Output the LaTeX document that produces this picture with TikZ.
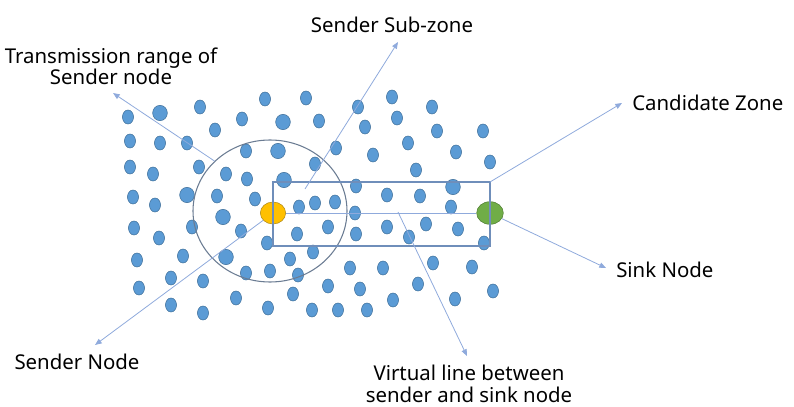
\documentclass[tikz,border=0pt]{standalone}
\usepackage{fontspec}
\setmainfont{Noto Sans}
\usepackage{tikz}
\usetikzlibrary{arrows.meta,shapes.geometric}
\definecolor{dotblue}{HTML}{5B9BD5}
\definecolor{dotedge}{HTML}{41719C}
\definecolor{sendyellow}{HTML}{FFC000}
\definecolor{sendedge}{HTML}{B08A1A}
\definecolor{sinkgreen}{HTML}{70AD47}
\definecolor{sinkedge}{HTML}{507E32}
\definecolor{callblue}{HTML}{8FAADC}
\definecolor{rangegray}{HTML}{6B7C93}
\definecolor{zoneblue}{HTML}{6F8EBA}
\tikzstyle{arrow} = [line width=0.6pt,color=callblue,-{Triangle[length=5pt,width=4pt]}]
\tikzstyle{dot} = [ellipse,draw=dotedge,fill=dotblue,line width=0.4pt,inner sep=0pt,minimum width=8.3pt,minimum height=10.5pt]
\tikzstyle{bigdot} = [dot,minimum width=11pt,minimum height=11.5pt]
\tikzstyle{lbl} = [font=\fontsize{15.3}{16}\selectfont,align=center,inner sep=0pt]

\begin{document}
\begin{tikzpicture}[x=0.75pt,y=-0.75pt]
    \useasboundingbox (0,0) rectangle (794,407);
    % field of nodes
    \foreach \x/\y [count=\i] in {128/117,200/107,265/99,306/98,358/107,392/97,432/107,
        242/119,215/130,319/121,365/127,397/118,437/131,483/131,
        130/141,160/143,187/143,246/151,336/148,373/155,408/143,456/152,490/162,
        130/167,153/174,199/167,226/174,247/179,315/164,416/170,
        133/197,155/205,217/196,255/199,299/207,315/203,335/202,356/186,387/195,420/196,451/207,
        355/213,134/228,159/238,192/227,241/231,267/243,297/234,328/227,356/234,387/227,426/224,458/229,409/237,484/243,
        137/260,183/256,290/259,313/252,
        246/273,270/271,298/275,350/268,383/268,433/263,472/267,
        139/288,171/278,203/281,236/298,293/294,328/286,360/289,418/284,493/291,
        171/305,203/313,268/308,312/310,338/310,367/310,393/300,455/299}
        \node[dot] (d\i) at (\x,\y) {};
    \foreach \x/\y [count=\i] in {160/113,283/122,278/151,284/180,187/195,453/187,223/217,226/257}
        \node[bigdot] (b\i) at (\x,\y) {};

    % zones
    \node[ellipse,draw=rangegray,line width=0.8pt,minimum width=115.5pt,minimum height=106.5pt] (range) at (270,211) {};
    \node[ellipse,draw=sendedge,fill=sendyellow,inner sep=0pt,minimum width=19pt,minimum height=16.5pt] (sender) at (273,213) {};
    \node[ellipse,draw=sinkedge,fill=sinkgreen,inner sep=0pt,minimum width=20pt,minimum height=17pt] (sink) at (490,213) {};
    \draw[callblue,line width=0.7pt] (sender.east) -- (sink.west);
    \node[draw=zoneblue,line width=0.9pt,inner sep=0pt,outer sep=0pt,minimum width=162.75pt,minimum height=48pt,anchor=north west] (zone) at (273,182) {};

    % labels
    \node[lbl] (trans) at (111,66) {Transmission range of\\Sender node};
    \node[lbl] (sub) at (392,25) {Sender Sub-zone};
    \node[lbl,anchor=west] (cand) at (632,103) {Candidate Zone};
    \node[lbl,anchor=west] (sinklbl) at (616,270) {Sink Node};
    \node[lbl] (sendlbl) at (77,362) {Sender Node};
    \node[lbl] (virt) at (469,384) {Virtual line between\\sender and sink node};

    % callouts
    \coordinate (t1) at (113,93);
    \coordinate (s0) at (305,189);
    \coordinate (s1) at (398,42);
    \coordinate (c1) at (622,103);
    \coordinate (k1) at (606,268);
    \coordinate (v0) at (398,212);
    \coordinate (v1) at (467,356);
    \coordinate (n1) at (95,345);
    \draw[arrow] (range.138) -- (t1);
    \draw[arrow] (s0) -- (s1);
    \draw[arrow] (zone.north east) -- (c1);
    \draw[arrow] (sink) -- (k1);
    \draw[arrow] (v0) -- (v1);
    \draw[arrow] (sender) -- (n1);
\end{tikzpicture}
\end{document}
